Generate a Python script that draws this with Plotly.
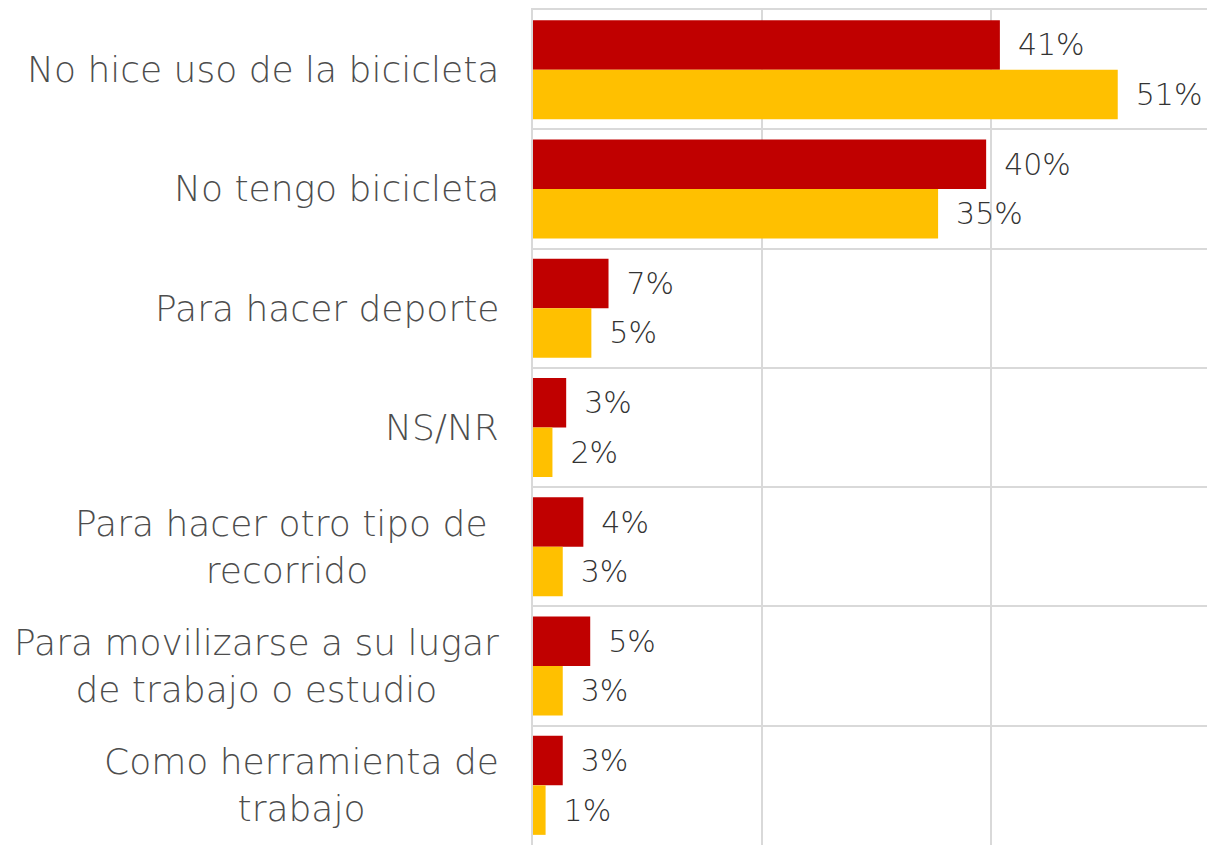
import plotly.graph_objects as go

categories = [
    "No hice uso de la bicicleta",
    "No tengo bicicleta",
    "Para hacer deporte",
    "NS/NR",
    "Para hacer otro tipo de\u00a0<br>recorrido",
    "Para movilizarse a su lugar<br>de trabajo o estudio",
    "Como herramienta de<br>trabajo",
]
cat_ids = ["c1", "c2", "c3", "c4", "c5", "c6", "c7"]
serie_roja = [40.8, 39.6, 6.6, 2.9, 4.4, 5.0, 2.6]
serie_amarilla = [51.1, 35.4, 5.1, 1.7, 2.6, 2.6, 1.1]

FONT = "'DejaVu Sans', sans-serif"
LABEL_COLOR = "#333333"
CAT_COLOR = "#4d4d4d"
GRID = "#D9D9D9"

fig = go.Figure()
for vals, color in [(serie_roja, "#C00000"), (serie_amarilla, "#FFC000")]:
    fig.add_trace(go.Bar(
        y=cat_ids, x=vals, orientation="h",
        marker=dict(color=color, line=dict(width=0)),
        texttemplate="\u2002%{x:.0f}%", textposition="outside",
        textfont=dict(family=FONT, size=30, color=LABEL_COLOR, weight=300),
        cliponaxis=False, hoverinfo="skip",
    ))

for cid, label in zip(cat_ids, categories):
    fig.add_annotation(
        x=0, xref="paper", y=cid, yref="y", text=label, showarrow=False,
        xanchor="right", yanchor="middle", align="center", xshift=-32,
        font=dict(family=FONT, size=36, color=CAT_COLOR, weight=300),
    )

fig.update_layout(
    width=1207, height=845,
    margin=dict(l=533, r=0, t=10, b=0),
    paper_bgcolor="white", plot_bgcolor="white",
    barmode="group", bargap=0.17, bargroupgap=0,
    showlegend=False,
    xaxis=dict(range=[0, 58.9], dtick=20, showticklabels=False, showgrid=True,
               gridcolor=GRID, gridwidth=2, zeroline=False, showline=True,
               mirror=True, linecolor=GRID, linewidth=2, fixedrange=True),
    yaxis=dict(autorange="reversed", type="category", showticklabels=False,
               tickson="boundaries", showgrid=True, gridcolor=GRID, gridwidth=2,
               ticks="", showline=True, linecolor=GRID, linewidth=2,
               fixedrange=True),
)

fig.write_html(
    "out.html",
    config={"displayModeBar": False},
    post_script="document.body.style.margin='0';document.body.style.overflow='hidden';",
)
